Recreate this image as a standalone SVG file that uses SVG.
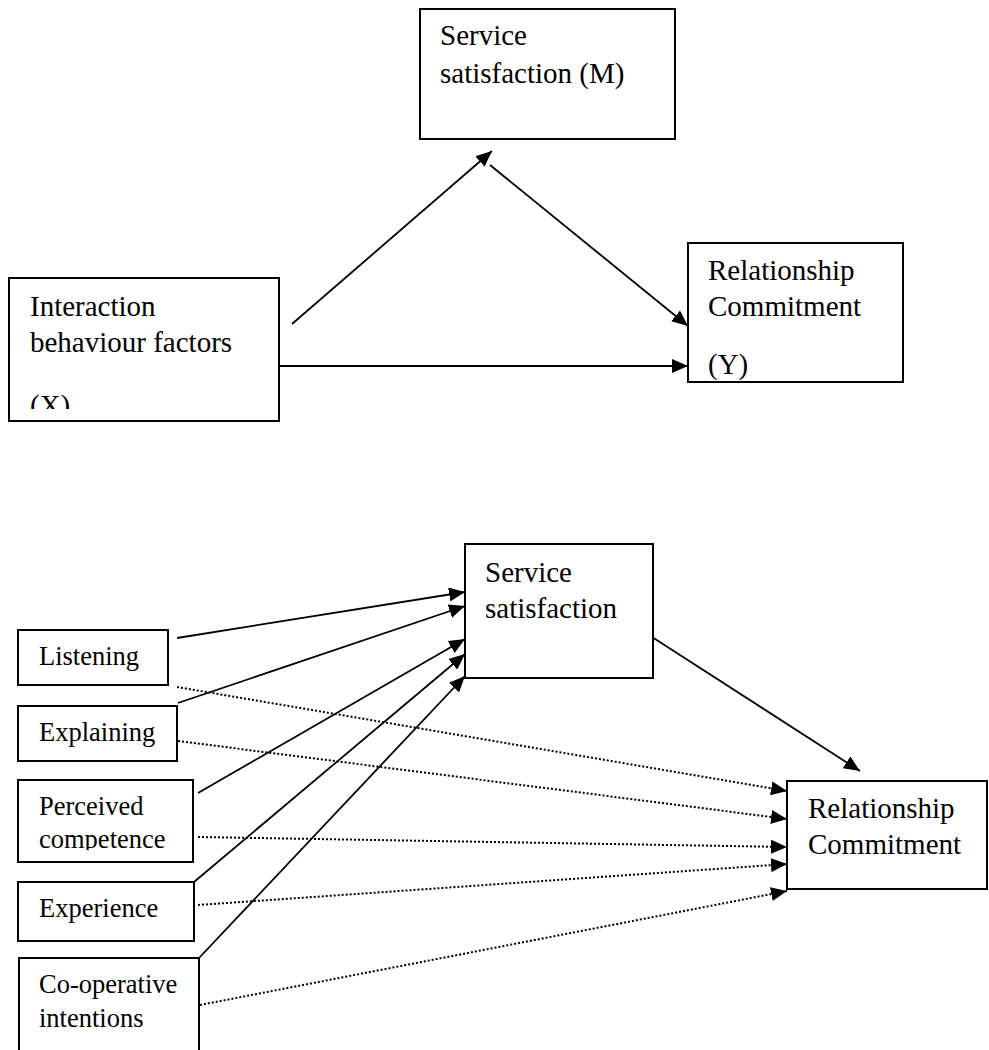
<svg xmlns="http://www.w3.org/2000/svg" width="989" height="1050" viewBox="0 0 989 1050">
<style>
.box{fill:#fff;stroke:#000;stroke-width:2}
.t{font-family:"Liberation Serif","Times New Roman",serif;font-size:29px;fill:#000}
.s{font-family:"Liberation Serif","Times New Roman",serif;font-size:26.5px;fill:#000}
.c{stroke:#000;stroke-width:1.8;fill:none}
.d{stroke:#000;stroke-width:2;fill:none;stroke-dasharray:2 2}
</style>
<defs>
<marker id="ah" markerUnits="userSpaceOnUse" markerWidth="16" markerHeight="14" refX="16" refY="7" orient="auto">
<path d="M0,0 L16,7 L0,14 z" fill="#000"/>
</marker>
<clipPath id="clipX"><rect x="10" y="279" width="268" height="130"/></clipPath>
<clipPath id="clipP"><rect x="19" y="781" width="173" height="69"/></clipPath>
</defs>
<rect width="989" height="1050" fill="#fff"/>

<g id="connectors">
<line class="c" x1="292" y1="324" x2="492" y2="151" marker-end="url(#ah)"/>
<line class="c" x1="490" y1="165" x2="688" y2="326" marker-end="url(#ah)"/>
<line class="c" x1="279" y1="366" x2="688" y2="366" marker-end="url(#ah)"/>

<line class="c" x1="177" y1="638" x2="465" y2="592" marker-end="url(#ah)"/>
<line class="c" x1="178" y1="703" x2="465" y2="606" marker-end="url(#ah)"/>
<line class="c" x1="198" y1="793" x2="465" y2="639" marker-end="url(#ah)"/>
<line class="c" x1="194" y1="882" x2="465" y2="654" marker-end="url(#ah)"/>
<line class="c" x1="199" y1="958" x2="465" y2="676" marker-end="url(#ah)"/>
<line class="c" x1="652" y1="637" x2="860" y2="771" marker-end="url(#ah)"/>

<line class="d" x1="177" y1="687" x2="787" y2="791" marker-end="url(#ah)"/>
<line class="d" x1="178" y1="741" x2="787" y2="819" marker-end="url(#ah)"/>
<line class="d" x1="198" y1="837" x2="787" y2="847" marker-end="url(#ah)"/>
<line class="d" x1="198" y1="905" x2="787" y2="864" marker-end="url(#ah)"/>
<line class="d" x1="200" y1="1005" x2="787" y2="891" marker-end="url(#ah)"/>
</g>

<g id="node-m">
<rect class="box" x="420" y="9" width="255" height="130"/>
<text class="t" x="440" y="45">Service</text>
<text class="t" x="440" y="83">satisfaction (M)</text>
</g>

<g id="node-x">
<rect class="box" x="9" y="278" width="270" height="143"/>
<g clip-path="url(#clipX)">
<text class="t" x="30" y="316">Interaction</text>
<text class="t" x="30" y="352">behaviour factors</text>
<text class="t" x="30" y="415">(X)</text>
</g>
</g>

<g id="node-y">
<rect class="box" x="688" y="243" width="215" height="139"/>
<text class="t" x="708" y="280">Relationship</text>
<text class="t" x="708" y="316">Commitment</text>
<text class="t" x="708" y="374">(Y)</text>
</g>

<g id="node-ss">
<rect class="box" x="465" y="544" width="188" height="134"/>
<text class="t" x="485" y="582">Service</text>
<text class="t" x="485" y="618">satisfaction</text>
</g>

<g id="node-rc">
<rect class="box" x="787" y="781" width="200" height="108"/>
<text class="t" x="808" y="818">Relationship</text>
<text class="t" x="808" y="854">Commitment</text>
</g>

<g id="node-listening">
<rect class="box" x="18" y="630" width="150" height="55"/>
<text class="s" x="39" y="665">Listening</text>
</g>

<g id="node-explaining">
<rect class="box" x="18" y="706" width="159" height="55"/>
<text class="s" x="39" y="741">Explaining</text>
</g>

<g id="node-perceived">
<rect class="box" x="18" y="780" width="175" height="82"/>
<g clip-path="url(#clipP)">
<text class="s" x="39" y="815">Perceived</text>
<text class="s" x="39" y="848">competence</text>
</g>
</g>

<g id="node-experience">
<rect class="box" x="18" y="882" width="176" height="59"/>
<text class="s" x="39" y="917">Experience</text>
</g>

<g id="node-cooperative">
<path class="box" d="M19,1060 L19,958 L199,958 L199,1060"/>
<text class="s" x="39" y="993">Co-operative</text>
<text class="s" x="39" y="1027">intentions</text>
</g>
</svg>
